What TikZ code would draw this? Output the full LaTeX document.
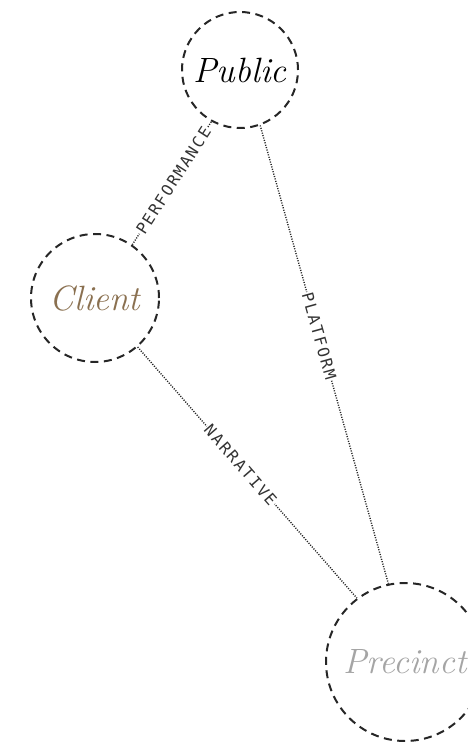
\documentclass[tikz,border=0pt]{standalone}
\usepackage{fontspec}
\newfontfamily\tagfont[LetterSpace=12]{DejaVu Sans Mono}
\definecolor{clientbrown}{RGB}{138,112,80}
\definecolor{precinctgray}{RGB}{165,165,165}

\begin{document}
\begin{tikzpicture}[x=0.2mm,y=-0.2mm,
  hub/.style={circle,draw=black!85,dash pattern=on 1.6mm off 1.1mm,line width=0.4mm,inner sep=0pt,font=\fontsize{20}{24}\selectfont\itshape},
  link/.style={draw=black!85,dash pattern=on 0.22mm off 0.28mm,line width=0.28mm},
  tag/.style={sloped,fill=white,inner sep=0.6pt,text=black!80,font=\tagfont\fontsize{9}{10}\selectfont}]
\useasboundingbox (0,0) rectangle (467,742);
\node[hub,minimum size=23.2mm] (public) at (240,70) {Public};
\node[hub,minimum size=25.6mm,text=clientbrown] (client) at (95,298) {Client};
\node[hub,minimum size=31.6mm,text=precinctgray] (precinct) at (405,662) {Precinct};
\draw[link] (client.55) -- node[tag,pos=0.52] {PERFORMANCE} (public.241);
\draw[link] (public.-70) -- node[tag,pos=0.46] {PLATFORM} (precinct.102);
\draw[link] (client.-49) -- node[tag,pos=0.47] {NARRATIVE} (precinct.127);
\end{tikzpicture}
\end{document}
